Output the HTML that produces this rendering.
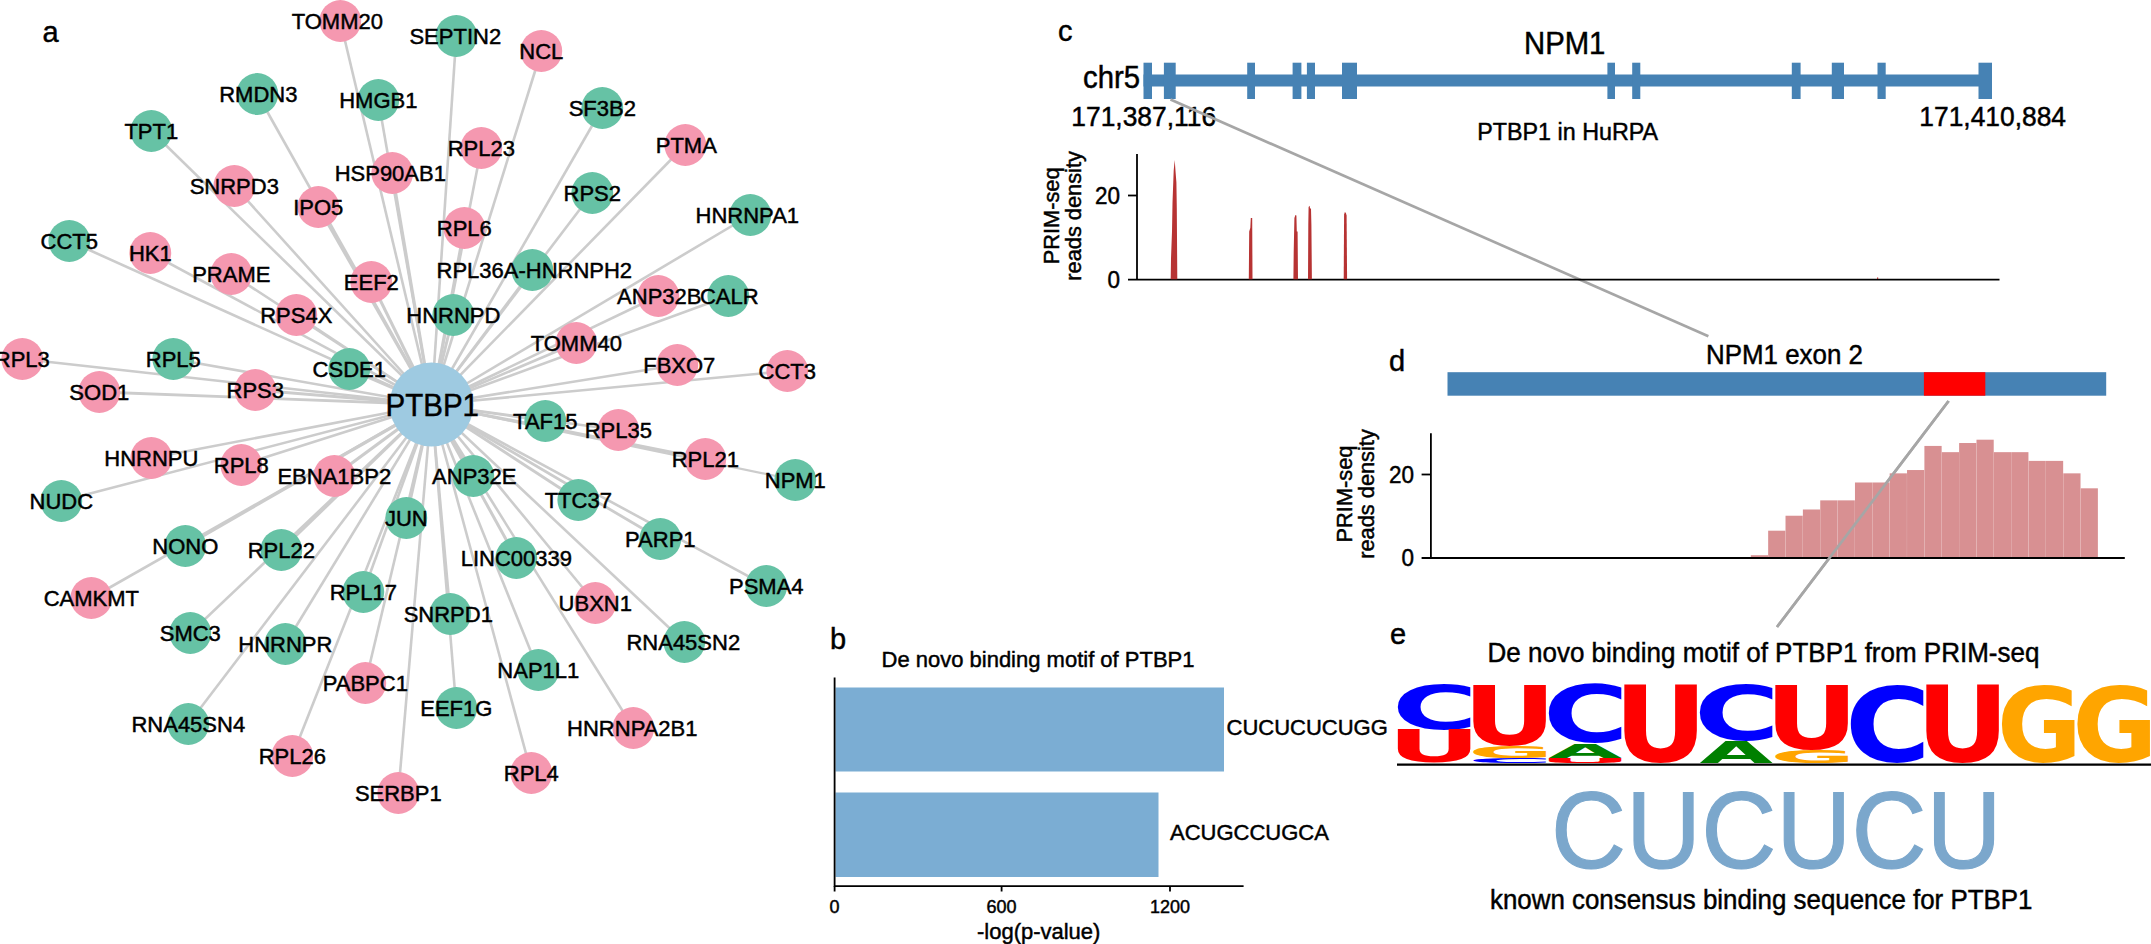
<!DOCTYPE html>
<html><head><meta charset="utf-8"><title>PTBP1 figure</title>
<style>html,body{margin:0;padding:0;background:#fff}svg{display:block}text{font-family:"Liberation Sans",sans-serif;fill:#000;stroke:#000;stroke-width:0.45px}text.lg{font-family:"DejaVu Sans","Liberation Sans",sans-serif;font-weight:bold;stroke:none}</style></head><body>
<svg width="2151" height="944" viewBox="0 0 2151 944">
<rect width="2151" height="944" fill="#fff"/>
<g stroke="#cccccc" stroke-linecap="butt">
<line x1="431.5" y1="404.5" x2="340.3" y2="21.0" stroke-width="2.6"/>
<line x1="431.5" y1="404.5" x2="456.3" y2="36.0" stroke-width="2.6"/>
<line x1="431.5" y1="404.5" x2="541.3" y2="51.0" stroke-width="2.6"/>
<line x1="431.5" y1="404.5" x2="257.3" y2="94.0" stroke-width="2.6"/>
<line x1="431.5" y1="404.5" x2="378.3" y2="100.0" stroke-width="2.6"/>
<line x1="431.5" y1="404.5" x2="151.3" y2="131.0" stroke-width="2.6"/>
<line x1="431.5" y1="404.5" x2="481.3" y2="148.0" stroke-width="2.6"/>
<line x1="431.5" y1="404.5" x2="392.3" y2="173.0" stroke-width="3"/>
<line x1="431.5" y1="404.5" x2="234.3" y2="186.0" stroke-width="2.6"/>
<line x1="431.5" y1="404.5" x2="318.3" y2="207.0" stroke-width="3"/>
<line x1="431.5" y1="404.5" x2="464.3" y2="228.0" stroke-width="3"/>
<line x1="431.5" y1="404.5" x2="69.3" y2="241.0" stroke-width="2.6"/>
<line x1="431.5" y1="404.5" x2="150.3" y2="253.0" stroke-width="2.6"/>
<line x1="431.5" y1="404.5" x2="231.3" y2="274.0" stroke-width="2.6"/>
<line x1="431.5" y1="404.5" x2="371.3" y2="282.0" stroke-width="3"/>
<line x1="431.5" y1="404.5" x2="296.3" y2="315.0" stroke-width="2.6"/>
<line x1="431.5" y1="404.5" x2="453.3" y2="315.0" stroke-width="3"/>
<line x1="431.5" y1="404.5" x2="22.3" y2="359.0" stroke-width="2.6"/>
<line x1="431.5" y1="404.5" x2="173.3" y2="359.0" stroke-width="2.6"/>
<line x1="431.5" y1="404.5" x2="349.3" y2="369.0" stroke-width="3"/>
<line x1="431.5" y1="404.5" x2="99.3" y2="392.0" stroke-width="2.8"/>
<line x1="431.5" y1="404.5" x2="255.3" y2="390.0" stroke-width="2.8"/>
<line x1="431.5" y1="404.5" x2="151.3" y2="458.0" stroke-width="2.6"/>
<line x1="431.5" y1="404.5" x2="241.3" y2="465.0" stroke-width="2.6"/>
<line x1="431.5" y1="404.5" x2="602.3" y2="108.0" stroke-width="2.6"/>
<line x1="431.5" y1="404.5" x2="685.3" y2="145.0" stroke-width="2.6"/>
<line x1="431.5" y1="404.5" x2="592.3" y2="193.0" stroke-width="2.6"/>
<line x1="431.5" y1="404.5" x2="750.3" y2="215.0" stroke-width="2.6"/>
<line x1="431.5" y1="404.5" x2="532.3" y2="270.0" stroke-width="2.6"/>
<line x1="431.5" y1="404.5" x2="658.3" y2="296.0" stroke-width="2.6"/>
<line x1="431.5" y1="404.5" x2="728.3" y2="296.0" stroke-width="2.6"/>
<line x1="431.5" y1="404.5" x2="576.3" y2="343.0" stroke-width="2.6"/>
<line x1="431.5" y1="404.5" x2="677.3" y2="365.0" stroke-width="2.6"/>
<line x1="431.5" y1="404.5" x2="787.3" y2="371.0" stroke-width="2.6"/>
<line x1="431.5" y1="404.5" x2="545.3" y2="421.0" stroke-width="2.4"/>
<line x1="431.5" y1="404.5" x2="618.3" y2="430.0" stroke-width="2.6"/>
<line x1="431.5" y1="404.5" x2="705.3" y2="459.0" stroke-width="3.2"/>
<line x1="431.5" y1="404.5" x2="795.3" y2="480.0" stroke-width="2.2"/>
<line x1="431.5" y1="404.5" x2="334.3" y2="476.0" stroke-width="3.2"/>
<line x1="431.5" y1="404.5" x2="473.3" y2="476.0" stroke-width="3"/>
<line x1="431.5" y1="404.5" x2="61.3" y2="501.0" stroke-width="2.6"/>
<line x1="431.5" y1="404.5" x2="406.3" y2="518.0" stroke-width="3"/>
<line x1="431.5" y1="404.5" x2="185.3" y2="546.0" stroke-width="3.2"/>
<line x1="431.5" y1="404.5" x2="281.3" y2="550.0" stroke-width="3"/>
<line x1="431.5" y1="404.5" x2="516.3" y2="558.0" stroke-width="3"/>
<line x1="431.5" y1="404.5" x2="363.3" y2="592.0" stroke-width="2.6"/>
<line x1="431.5" y1="404.5" x2="91.3" y2="598.0" stroke-width="2.6"/>
<line x1="431.5" y1="404.5" x2="450.3" y2="614.0" stroke-width="2.6"/>
<line x1="431.5" y1="404.5" x2="190.3" y2="633.0" stroke-width="2.6"/>
<line x1="431.5" y1="404.5" x2="285.3" y2="644.0" stroke-width="2.6"/>
<line x1="431.5" y1="404.5" x2="365.3" y2="683.0" stroke-width="2.6"/>
<line x1="431.5" y1="404.5" x2="538.3" y2="670.0" stroke-width="2.6"/>
<line x1="431.5" y1="404.5" x2="456.3" y2="708.0" stroke-width="2.6"/>
<line x1="431.5" y1="404.5" x2="188.3" y2="724.0" stroke-width="2.6"/>
<line x1="431.5" y1="404.5" x2="292.3" y2="756.0" stroke-width="2.6"/>
<line x1="431.5" y1="404.5" x2="531.3" y2="773.0" stroke-width="2.6"/>
<line x1="431.5" y1="404.5" x2="398.3" y2="793.0" stroke-width="2.6"/>
<line x1="431.5" y1="404.5" x2="578.3" y2="500.0" stroke-width="3"/>
<line x1="431.5" y1="404.5" x2="660.3" y2="539.0" stroke-width="2.8"/>
<line x1="431.5" y1="404.5" x2="766.3" y2="586.0" stroke-width="2.6"/>
<line x1="431.5" y1="404.5" x2="595.3" y2="603.0" stroke-width="2.6"/>
<line x1="431.5" y1="404.5" x2="684.3" y2="642.0" stroke-width="2.6"/>
<line x1="431.5" y1="404.5" x2="633.3" y2="728.0" stroke-width="2.6"/>
</g>
<g>
<circle cx="340.3" cy="21.0" r="20.9" fill="#f598b0"/>
<circle cx="456.3" cy="36.0" r="20.9" fill="#66c2a5"/>
<circle cx="541.3" cy="51.0" r="20.9" fill="#f598b0"/>
<circle cx="257.3" cy="94.0" r="20.9" fill="#66c2a5"/>
<circle cx="378.3" cy="100.0" r="20.9" fill="#66c2a5"/>
<circle cx="151.3" cy="131.0" r="20.9" fill="#66c2a5"/>
<circle cx="481.3" cy="148.0" r="20.9" fill="#f598b0"/>
<circle cx="392.3" cy="173.0" r="20.9" fill="#f598b0"/>
<circle cx="234.3" cy="186.0" r="20.9" fill="#f598b0"/>
<circle cx="318.3" cy="207.0" r="20.9" fill="#f598b0"/>
<circle cx="464.3" cy="228.0" r="20.9" fill="#f598b0"/>
<circle cx="69.3" cy="241.0" r="20.9" fill="#66c2a5"/>
<circle cx="150.3" cy="253.0" r="20.9" fill="#f598b0"/>
<circle cx="231.3" cy="274.0" r="20.9" fill="#f598b0"/>
<circle cx="371.3" cy="282.0" r="20.9" fill="#f598b0"/>
<circle cx="296.3" cy="315.0" r="20.9" fill="#f598b0"/>
<circle cx="453.3" cy="315.0" r="20.9" fill="#66c2a5"/>
<circle cx="22.3" cy="359.0" r="20.9" fill="#f598b0"/>
<circle cx="173.3" cy="359.0" r="20.9" fill="#66c2a5"/>
<circle cx="349.3" cy="369.0" r="20.9" fill="#66c2a5"/>
<circle cx="99.3" cy="392.0" r="20.9" fill="#f598b0"/>
<circle cx="255.3" cy="390.0" r="20.9" fill="#f598b0"/>
<circle cx="151.3" cy="458.0" r="20.9" fill="#f598b0"/>
<circle cx="241.3" cy="465.0" r="20.9" fill="#f598b0"/>
<circle cx="602.3" cy="108.0" r="20.9" fill="#66c2a5"/>
<circle cx="685.3" cy="145.0" r="20.9" fill="#f598b0"/>
<circle cx="592.3" cy="193.0" r="20.9" fill="#66c2a5"/>
<circle cx="750.3" cy="215.0" r="20.9" fill="#66c2a5"/>
<circle cx="532.3" cy="270.0" r="20.9" fill="#66c2a5"/>
<circle cx="658.3" cy="296.0" r="20.9" fill="#f598b0"/>
<circle cx="728.3" cy="296.0" r="20.9" fill="#66c2a5"/>
<circle cx="576.3" cy="343.0" r="20.9" fill="#f598b0"/>
<circle cx="677.3" cy="365.0" r="20.9" fill="#f598b0"/>
<circle cx="787.3" cy="371.0" r="20.9" fill="#f598b0"/>
<circle cx="545.3" cy="421.0" r="20.9" fill="#66c2a5"/>
<circle cx="618.3" cy="430.0" r="20.9" fill="#f598b0"/>
<circle cx="705.3" cy="459.0" r="20.9" fill="#f598b0"/>
<circle cx="795.3" cy="480.0" r="20.9" fill="#66c2a5"/>
<circle cx="334.3" cy="476.0" r="20.9" fill="#f598b0"/>
<circle cx="473.3" cy="476.0" r="20.9" fill="#66c2a5"/>
<circle cx="61.3" cy="501.0" r="20.9" fill="#66c2a5"/>
<circle cx="406.3" cy="518.0" r="20.9" fill="#66c2a5"/>
<circle cx="185.3" cy="546.0" r="20.9" fill="#66c2a5"/>
<circle cx="281.3" cy="550.0" r="20.9" fill="#66c2a5"/>
<circle cx="516.3" cy="558.0" r="20.9" fill="#66c2a5"/>
<circle cx="363.3" cy="592.0" r="20.9" fill="#66c2a5"/>
<circle cx="91.3" cy="598.0" r="20.9" fill="#f598b0"/>
<circle cx="450.3" cy="614.0" r="20.9" fill="#66c2a5"/>
<circle cx="190.3" cy="633.0" r="20.9" fill="#66c2a5"/>
<circle cx="285.3" cy="644.0" r="20.9" fill="#66c2a5"/>
<circle cx="365.3" cy="683.0" r="20.9" fill="#f598b0"/>
<circle cx="538.3" cy="670.0" r="20.9" fill="#66c2a5"/>
<circle cx="456.3" cy="708.0" r="20.9" fill="#66c2a5"/>
<circle cx="188.3" cy="724.0" r="20.9" fill="#66c2a5"/>
<circle cx="292.3" cy="756.0" r="20.9" fill="#f598b0"/>
<circle cx="531.3" cy="773.0" r="20.9" fill="#f598b0"/>
<circle cx="398.3" cy="793.0" r="20.9" fill="#f598b0"/>
<circle cx="578.3" cy="500.0" r="20.9" fill="#66c2a5"/>
<circle cx="660.3" cy="539.0" r="20.9" fill="#66c2a5"/>
<circle cx="766.3" cy="586.0" r="20.9" fill="#66c2a5"/>
<circle cx="595.3" cy="603.0" r="20.9" fill="#f598b0"/>
<circle cx="684.3" cy="642.0" r="20.9" fill="#66c2a5"/>
<circle cx="633.3" cy="728.0" r="20.9" fill="#f598b0"/>
<circle cx="431.5" cy="404.5" r="42" fill="#9ecae1"/>
</g>
<g font-size="22" text-anchor="middle">
<text transform="matrix(1,0,0,1.04,0,-1.148)" x="337.3" y="28.7">TOMM20</text>
<text transform="matrix(1,0,0,1.04,0,-1.748)" x="455.3" y="43.7">SEPTIN2</text>
<text transform="matrix(1,0,0,1.04,0,-2.348)" x="541.3" y="58.7">NCL</text>
<text transform="matrix(1,0,0,1.04,0,-4.068)" x="258.3" y="101.7">RMDN3</text>
<text transform="matrix(1,0,0,1.04,0,-4.308)" x="378.3" y="107.7">HMGB1</text>
<text transform="matrix(1,0,0,1.04,0,-5.548)" x="151.3" y="138.7">TPT1</text>
<text transform="matrix(1,0,0,1.04,0,-6.228)" x="481.3" y="155.7">RPL23</text>
<text transform="matrix(1,0,0,1.04,0,-7.228)" x="390.3" y="180.7">HSP90AB1</text>
<text transform="matrix(1,0,0,1.04,0,-7.748)" x="234.3" y="193.7">SNRPD3</text>
<text transform="matrix(1,0,0,1.04,0,-8.588)" x="318.3" y="214.7">IPO5</text>
<text transform="matrix(1,0,0,1.04,0,-9.428)" x="464.3" y="235.7">RPL6</text>
<text transform="matrix(1,0,0,1.04,0,-9.948)" x="69.3" y="248.7">CCT5</text>
<text transform="matrix(1,0,0,1.04,0,-10.428)" x="150.3" y="260.7">HK1</text>
<text transform="matrix(1,0,0,1.04,0,-11.268)" x="231.3" y="281.7">PRAME</text>
<text transform="matrix(1,0,0,1.04,0,-11.588)" x="371.3" y="289.7">EEF2</text>
<text transform="matrix(1,0,0,1.04,0,-12.908)" x="296.3" y="322.7">RPS4X</text>
<text transform="matrix(1,0,0,1.04,0,-12.908)" x="453.3" y="322.7">HNRNPD</text>
<text transform="matrix(1,0,0,1.04,0,-14.668)" x="22.3" y="366.7">RPL3</text>
<text transform="matrix(1,0,0,1.04,0,-14.668)" x="173.3" y="366.7">RPL5</text>
<text transform="matrix(1,0,0,1.04,0,-15.068)" x="349.3" y="376.7">CSDE1</text>
<text transform="matrix(1,0,0,1.04,0,-15.988)" x="99.3" y="399.7">SOD1</text>
<text transform="matrix(1,0,0,1.04,0,-15.908)" x="255.3" y="397.7">RPS3</text>
<text transform="matrix(1,0,0,1.04,0,-18.628)" x="151.3" y="465.7">HNRNPU</text>
<text transform="matrix(1,0,0,1.04,0,-18.908)" x="241.3" y="472.7">RPL8</text>
<text transform="matrix(1,0,0,1.04,0,-4.628)" x="602.3" y="115.7">SF3B2</text>
<text transform="matrix(1,0,0,1.04,0,-6.108)" x="686.3" y="152.7">PTMA</text>
<text transform="matrix(1,0,0,1.04,0,-8.028)" x="592.3" y="200.7">RPS2</text>
<text transform="matrix(1,0,0,1.04,0,-8.908)" x="747.3" y="222.7">HNRNPA1</text>
<text transform="matrix(1,0,0,1.04,0,-11.108)" x="534.3" y="277.7">RPL36A-HNRNPH2</text>
<text transform="matrix(1,0,0,1.04,0,-12.148)" x="659.3" y="303.7">ANP32B</text>
<text transform="matrix(1,0,0,1.04,0,-12.148)" x="729.3" y="303.7">CALR</text>
<text transform="matrix(1,0,0,1.04,0,-14.028)" x="576.3" y="350.7">TOMM40</text>
<text transform="matrix(1,0,0,1.04,0,-14.908)" x="679.3" y="372.7">FBXO7</text>
<text transform="matrix(1,0,0,1.04,0,-15.148)" x="787.3" y="378.7">CCT3</text>
<text transform="matrix(1,0,0,1.04,0,-17.148)" x="545.3" y="428.7">TAF15</text>
<text transform="matrix(1,0,0,1.04,0,-17.508)" x="618.3" y="437.7">RPL35</text>
<text transform="matrix(1,0,0,1.04,0,-18.668)" x="705.3" y="466.7">RPL21</text>
<text transform="matrix(1,0,0,1.04,0,-19.508)" x="795.3" y="487.7">NPM1</text>
<text transform="matrix(1,0,0,1.04,0,-19.348)" x="334.3" y="483.7">EBNA1BP2</text>
<text transform="matrix(1,0,0,1.04,0,-19.348)" x="474.3" y="483.7">ANP32E</text>
<text transform="matrix(1,0,0,1.04,0,-20.348)" x="61.3" y="508.7">NUDC</text>
<text transform="matrix(1,0,0,1.04,0,-21.028)" x="406.3" y="525.7">JUN</text>
<text transform="matrix(1,0,0,1.04,0,-22.148)" x="185.3" y="553.7">NONO</text>
<text transform="matrix(1,0,0,1.04,0,-22.308)" x="281.3" y="557.7">RPL22</text>
<text transform="matrix(1,0,0,1.04,0,-22.628)" x="516.3" y="565.7">LINC00339</text>
<text transform="matrix(1,0,0,1.04,0,-23.988)" x="363.3" y="599.7">RPL17</text>
<text transform="matrix(1,0,0,1.04,0,-24.228)" x="91.3" y="605.7">CAMKMT</text>
<text transform="matrix(1,0,0,1.04,0,-24.868)" x="448.3" y="621.7">SNRPD1</text>
<text transform="matrix(1,0,0,1.04,0,-25.628)" x="190.3" y="640.7">SMC3</text>
<text transform="matrix(1,0,0,1.04,0,-26.068)" x="285.3" y="651.7">HNRNPR</text>
<text transform="matrix(1,0,0,1.04,0,-27.628)" x="365.3" y="690.7">PABPC1</text>
<text transform="matrix(1,0,0,1.04,0,-27.108)" x="538.3" y="677.7">NAP1L1</text>
<text transform="matrix(1,0,0,1.04,0,-28.628)" x="456.3" y="715.7">EEF1G</text>
<text transform="matrix(1,0,0,1.04,0,-29.268)" x="188.3" y="731.7">RNA45SN4</text>
<text transform="matrix(1,0,0,1.04,0,-30.548)" x="292.3" y="763.7">RPL26</text>
<text transform="matrix(1,0,0,1.04,0,-31.228)" x="531.3" y="780.7">RPL4</text>
<text transform="matrix(1,0,0,1.04,0,-32.028)" x="398.3" y="800.7">SERBP1</text>
<text transform="matrix(1,0,0,1.04,0,-20.308)" x="578.3" y="507.7">TTC37</text>
<text transform="matrix(1,0,0,1.04,0,-21.868)" x="660.3" y="546.7">PARP1</text>
<text transform="matrix(1,0,0,1.04,0,-23.748)" x="766.3" y="593.7">PSMA4</text>
<text transform="matrix(1,0,0,1.04,0,-24.428)" x="595.3" y="610.7">UBXN1</text>
<text transform="matrix(1,0,0,1.04,0,-25.988)" x="683.3" y="649.7">RNA45SN2</text>
<text transform="matrix(1,0,0,1.04,0,-29.428)" x="632.3" y="735.7">HNRNPA2B1</text>
</g>
<text transform="matrix(1,0,0,1.04,0,-16.628)" x="432.3" y="415.7" font-size="29.5" text-anchor="middle">PTBP1</text>
<g font-size="29">
<text transform="matrix(1,0,0,1.04,0,-1.692)" x="42.6" y="42.3">a</text>
<text transform="matrix(1,0,0,1.04,0,-25.960)" x="830" y="649">b</text>
<text transform="matrix(1,0,0,1.04,0,-1.660)" x="1058" y="41.5">c</text>
<text transform="matrix(1,0,0,1.04,0,-14.840)" x="1389" y="371">d</text>
<text transform="matrix(1,0,0,1.04,0,-25.780)" x="1390" y="644.5">e</text>
</g>
<rect x="835.5" y="687.5" width="388.5" height="84" fill="#7badd3"/>
<rect x="835.5" y="792.5" width="323" height="84.5" fill="#7badd3"/>
<g stroke="#000" stroke-width="1.8" fill="none">
<path d="M834.6 677.5V886.1H1243.6"/>
<path d="M834.6 886V891.5"/>
<path d="M1001.6 886V891.5"/>
<path d="M1170 886V891.5"/>
</g>
<text transform="matrix(1,0,0,1.04,0,-26.680)" x="1038" y="667" font-size="22" text-anchor="middle">De novo binding motif of PTBP1</text>
<text transform="matrix(1,0,0,1.04,0,-29.396)" x="1226.5" y="734.9" font-size="22">CUCUCUCUGG</text>
<text transform="matrix(1,0,0,1.04,0,-33.596)" x="1170" y="839.9" font-size="22">ACUGCCUGCA</text>
<g font-size="18" text-anchor="middle">
<text transform="matrix(1,0,0,1.04,0,-36.508)" x="834.6" y="912.7">0</text><text transform="matrix(1,0,0,1.04,0,-36.508)" x="1001.6" y="912.7">600</text><text transform="matrix(1,0,0,1.04,0,-36.508)" x="1170" y="912.7">1200</text>
</g>
<text transform="matrix(1,0,0,1.04,0,-37.560)" x="1038.7" y="939" font-size="22" text-anchor="middle">-log(p-value)</text>
<rect x="1143.5" y="74.5" width="848.5" height="12" fill="#4682b4"/>
<rect x="1143.5" y="62.7" width="8.5" height="36.3" fill="#4682b4"/>
<rect x="1163.9" y="62.7" width="11.8" height="36.3" fill="#4682b4"/>
<rect x="1247.2" y="62.7" width="7.8" height="36.3" fill="#4682b4"/>
<rect x="1292.6" y="62.7" width="8.8" height="36.3" fill="#4682b4"/>
<rect x="1306.9" y="62.7" width="8.1" height="36.3" fill="#4682b4"/>
<rect x="1342" y="62.7" width="15.0" height="36.3" fill="#4682b4"/>
<rect x="1607.4" y="62.7" width="7.6" height="36.3" fill="#4682b4"/>
<rect x="1632.2" y="62.7" width="8.1" height="36.3" fill="#4682b4"/>
<rect x="1791.8" y="62.7" width="8.8" height="36.3" fill="#4682b4"/>
<rect x="1831.8" y="62.7" width="12.2" height="36.3" fill="#4682b4"/>
<rect x="1877.5" y="62.7" width="8.2" height="36.3" fill="#4682b4"/>
<rect x="1978.5" y="62.7" width="13.5" height="36.3" fill="#4682b4"/>
<text transform="matrix(1,0,0,1.04,0,-3.520)" x="1083" y="88" font-size="29.3">chr5</text>
<text transform="matrix(1,0,0,1.04,0,-2.144)" x="1564.7" y="53.6" font-size="29.3" text-anchor="middle">NPM1</text>
<text transform="matrix(1,0,0,1.04,0,-5.052)" x="1071.3" y="126.3" font-size="26.4">171,387,116</text>
<text transform="matrix(1,0,0,1.04,0,-5.052)" x="1919.3" y="126.3" font-size="26.4">171,410,884</text>
<text transform="matrix(1,0,0,1.04,0,-5.616)" x="1567.7" y="140.4" font-size="23.3" text-anchor="middle">PTBP1 in HuRPA</text>
<g stroke="#a6a6a6" stroke-width="2.7" fill="none">
<path d="M1170.5 99.5L1708.4 336.2"/>
<path d="M1948.6 401L1777 627"/>
</g>
<g stroke="#000" stroke-width="1.8" fill="none">
<path d="M1137 154V279.6"/><path d="M1128 279.6H1999.5"/><path d="M1128 195.5H1137"/>
</g>
<g font-size="22.5" text-anchor="end"><text transform="matrix(1,0,0,1.04,0,-8.168)" x="1120" y="204.2">20</text><text transform="matrix(1,0,0,1.04,0,-11.516)" x="1120" y="287.9">0</text></g>
<g font-size="21.8" text-anchor="middle"><text transform="translate(1058.6,215.9) rotate(-90) scale(1,1.04)">PRIM-seq</text><text transform="translate(1080.6,215.9) rotate(-90) scale(1,1.04)">reads density</text></g>
<path d="M1170.7 279.3L1171.0 258.6L1172.0 231.5L1172.5 202.7L1173.7 170.5L1174.7 160.0L1175.6 172.2L1176.4 182.4L1176.8 207.8L1177.3 279.3Z" fill="#b73333"/>
<path d="M1248.8 279.3L1249.2 231.5L1250.3 228.1L1250.8 218.0L1252.2 218.0L1252.5 279.3Z" fill="#b73333"/>
<path d="M1293.4 279.3L1293.7 251.9L1294.4 218.0L1295.4 215.1L1296.4 215.4L1296.8 231.5L1297.6 231.5L1298.0 279.3Z" fill="#b73333"/>
<path d="M1308.0 279.3L1308.3 224.7L1308.6 206.9L1309.7 205.8L1310.0 208.6L1311.0 208.6L1311.4 224.7L1311.9 279.3Z" fill="#b73333"/>
<path d="M1343.7 279.3L1344.1 214.6L1344.9 212.0L1345.9 212.9L1346.6 215.4L1347.1 279.3Z" fill="#b73333"/>
<rect x="1877" y="277.5" width="1.2" height="1.5" fill="#b73333"/>
<text transform="matrix(1,0,0,1.04,0,-14.576)" x="1784.5" y="364.4" font-size="25.9" text-anchor="middle">NPM1 exon 2</text>
<rect x="1447.5" y="372.2" width="658.7" height="23.5" fill="#4682b4"/>
<rect x="1923.9" y="372.2" width="61.4" height="23.5" fill="#ff0000"/>
<rect x="1750.80" y="555.21" width="17.24" height="2.49" fill="#d89092"/>
<rect x="1768.16" y="530.69" width="17.24" height="27.01" fill="#d89092"/>
<rect x="1785.52" y="515.73" width="17.24" height="41.97" fill="#d89092"/>
<rect x="1802.88" y="509.50" width="17.24" height="48.20" fill="#d89092"/>
<rect x="1820.24" y="500.36" width="17.24" height="57.34" fill="#d89092"/>
<rect x="1837.60" y="500.36" width="17.24" height="57.34" fill="#d89092"/>
<rect x="1854.96" y="482.49" width="17.24" height="75.21" fill="#d89092"/>
<rect x="1872.32" y="482.49" width="17.24" height="75.21" fill="#d89092"/>
<rect x="1889.68" y="473.35" width="17.24" height="84.35" fill="#d89092"/>
<rect x="1907.04" y="470.03" width="17.24" height="87.67" fill="#d89092"/>
<rect x="1924.40" y="445.93" width="17.24" height="111.77" fill="#d89092"/>
<rect x="1941.76" y="452.16" width="17.24" height="105.54" fill="#d89092"/>
<rect x="1959.12" y="443.02" width="17.24" height="114.68" fill="#d89092"/>
<rect x="1976.48" y="439.70" width="17.24" height="118.00" fill="#d89092"/>
<rect x="1993.84" y="452.16" width="17.24" height="105.54" fill="#d89092"/>
<rect x="2011.20" y="452.16" width="17.24" height="105.54" fill="#d89092"/>
<rect x="2028.56" y="460.89" width="17.24" height="96.81" fill="#d89092"/>
<rect x="2045.92" y="460.89" width="17.24" height="96.81" fill="#d89092"/>
<rect x="2063.28" y="473.35" width="17.24" height="84.35" fill="#d89092"/>
<rect x="2080.64" y="488.31" width="17.24" height="69.39" fill="#d89092"/>
<g stroke="#000" stroke-width="1.8" fill="none">
<path d="M1430.9 433.2V558"/><path d="M1421.6 558H2124.8"/><path d="M1421.6 474.5H1430.9"/>
</g>
<g font-size="22.5" text-anchor="end"><text transform="matrix(1,0,0,1.04,0,-19.308)" x="1414" y="482.7">20</text><text transform="matrix(1,0,0,1.04,0,-22.628)" x="1414" y="565.7">0</text></g>
<g font-size="21.8" text-anchor="middle"><text transform="translate(1352.3,494) rotate(-90) scale(1,1.04)">PRIM-seq</text><text transform="translate(1374.4,494) rotate(-90) scale(1,1.04)">reads density</text></g>
<path d="M1948.6 401L1777 627" stroke="#a6a6a6" stroke-width="2.7" fill="none"/>
<text transform="matrix(1,0,0,1.04,0,-26.480)" x="1763.5" y="662" font-size="26" text-anchor="middle">De novo binding motif of PTBP1 from PRIM-seq</text>
<text transform="matrix(1,0,0,1.04,0,-36.348)" x="1761.2" y="908.7" font-size="25.9" text-anchor="middle">known consensus binding sequence for PTBP1</text>
<text transform="translate(1776.3,868) scale(1,1.045)" font-size="104" text-anchor="middle" style="fill:#7ba7cc;stroke:#7ba7cc;stroke-width:1.1px">CUCUCU</text>
<g font-size="100">
<text transform="translate(1397.90,729.40) scale(1.1691,0.5963)" x="-4.980" y="-1.416" class="lg" style="fill:#0000ff">C</text>
<text transform="translate(1397.90,763.10) scale(1.1537,0.4508)" x="-9.180" y="-1.416" class="lg" style="fill:#ff0000">U</text>
<text transform="translate(1473.40,745.90) scale(1.1537,0.8249)" x="-9.180" y="-1.416" class="lg" style="fill:#ff0000">U</text>
<text transform="translate(1473.40,758.10) scale(1.0398,0.1613)" x="-4.980" y="-1.416" class="lg" style="fill:#ffa500">G</text>
<text transform="translate(1473.40,763.10) scale(1.1691,0.0661)" x="-4.980" y="-1.416" class="lg" style="fill:#0000ff">C</text>
<text transform="translate(1548.90,743.10) scale(1.1691,0.7774)" x="-4.980" y="-1.416" class="lg" style="fill:#0000ff">C</text>
<text transform="translate(1548.90,757.60) scale(0.9488,0.1989)" x="-0.488" y="0.000" class="lg" style="fill:#008000">A</text>
<text transform="translate(1548.90,763.10) scale(1.1537,0.0740)" x="-9.180" y="-1.416" class="lg" style="fill:#ff0000">U</text>
<text transform="translate(1624.40,763.10) scale(1.1537,1.0563)" x="-9.180" y="-1.416" class="lg" style="fill:#ff0000">U</text>
<text transform="translate(1699.90,741.40) scale(1.1691,0.7549)" x="-4.980" y="-1.416" class="lg" style="fill:#0000ff">C</text>
<text transform="translate(1699.90,763.10) scale(0.9488,0.2977)" x="-0.488" y="0.000" class="lg" style="fill:#008000">A</text>
<text transform="translate(1775.40,749.80) scale(1.1537,0.8773)" x="-9.180" y="-1.416" class="lg" style="fill:#ff0000">U</text>
<text transform="translate(1775.40,763.10) scale(1.0398,0.1758)" x="-4.980" y="-1.416" class="lg" style="fill:#ffa500">G</text>
<text transform="translate(1850.90,763.10) scale(1.1691,1.0418)" x="-4.980" y="-1.416" class="lg" style="fill:#0000ff">C</text>
<text transform="translate(1926.40,763.10) scale(1.1537,1.0563)" x="-9.180" y="-1.416" class="lg" style="fill:#ff0000">U</text>
<text transform="translate(2001.90,763.10) scale(1.0398,1.0418)" x="-4.980" y="-1.416" class="lg" style="fill:#ffa500">G</text>
<text transform="translate(2077.40,763.10) scale(1.0398,1.0418)" x="-4.980" y="-1.416" class="lg" style="fill:#ffa500">G</text>
</g>
<path d="M1397 764.7H2151" stroke="#000" stroke-width="2.2"/>
</svg></body></html>
